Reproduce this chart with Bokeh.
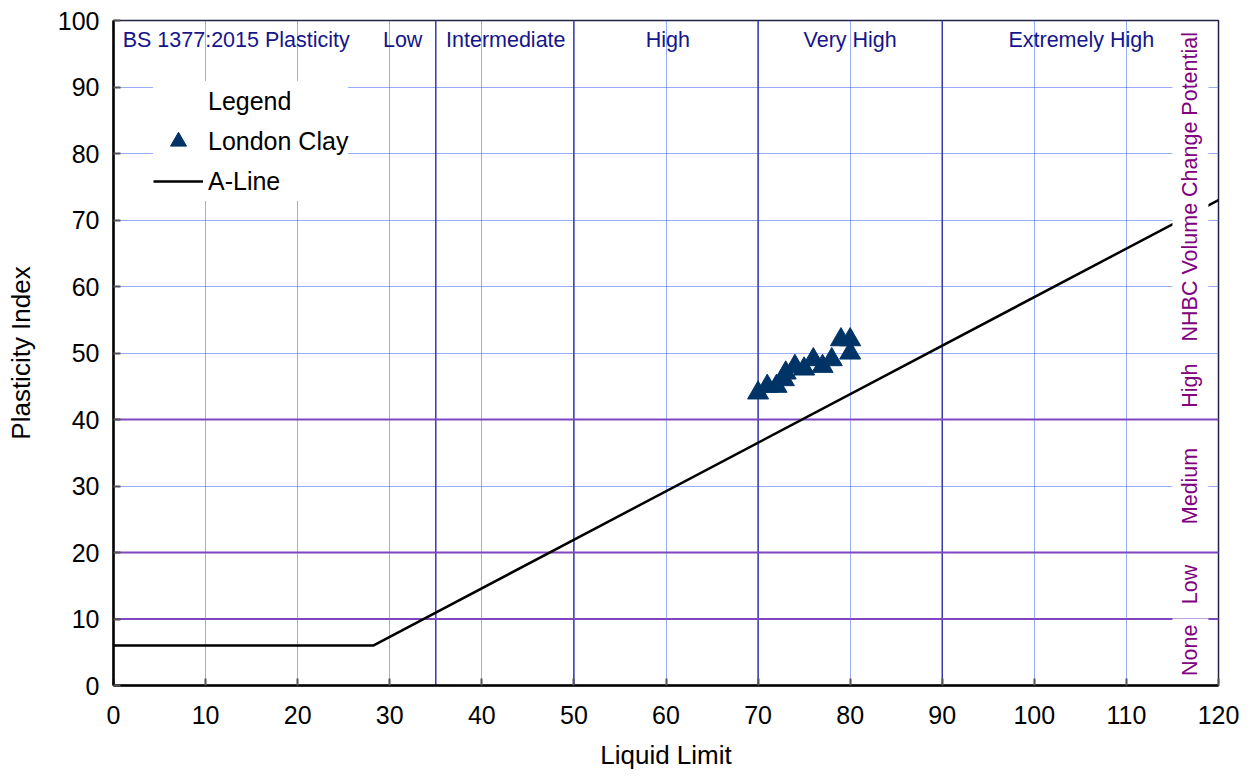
from math import pi
from bokeh.plotting import figure
from bokeh.models import (Range1d, Span, Label, Legend, LegendItem, FixedTicker)
from bokeh.embed import file_html
from bokeh.resources import INLINE

# ---- data ----
clay_ll = [70, 71, 72, 72.8, 73, 74, 75, 76, 77, 78, 79, 80, 80]
clay_pi = [44, 45, 45, 46, 47, 48, 47.6, 49, 48, 49, 52, 52, 50]

aline_ll = [0, 28.2, 120]
aline_pi = [6, 6, 73]

bs_bounds = [35, 50, 70, 90]
bs_labels = ["BS 1377:2015 Plasticity", "Low", "Intermediate", "High", "Very High", "Extremely High"]
bs_label_x = [1.0, 31.4, 42.6, 60.2, 80.0, 105.1]
bs_label_align = ["left", "center", "center", "center", "center", "center"]

nhbc_bounds = [10, 20, 40]
nhbc_labels = ["None", "Low", "Medium", "High", "NHBC Volume Change Potential"]
nhbc_label_y = [5.3, 15.2, 30, 45.1, 75.0]

x_ticks = list(range(0, 121, 10))
y_ticks = list(range(0, 101, 10))

FONT = "Liberation Sans"

p = figure(width=1259, height=782, output_backend="svg", toolbar_location=None,
           x_range=Range1d(0, 120), y_range=Range1d(0, 100),
           min_border_left=113, min_border_right=41, min_border_top=20, min_border_bottom=97)

p.outline_line_color = "#222244"
p.outline_line_width = 1.5
p.background_fill_color = "white"

for ax in (p.xaxis[0], p.yaxis[0]):
    ax.axis_line_color = "black"
    ax.axis_line_width = 2.5
    ax.major_tick_in = 7
    ax.major_tick_out = 0
    ax.minor_tick_line_color = None
    ax.major_tick_line_color = "#555555"
    ax.major_tick_line_width = 2
    ax.major_label_text_font = FONT
    ax.major_label_text_font_size = "25px"
    ax.major_label_text_color = "black"
    ax.axis_label_text_font = FONT
    ax.axis_label_text_font_size = "26px"
    ax.axis_label_text_font_style = "normal"
    ax.axis_label_text_color = "black"

p.xaxis.ticker = FixedTicker(ticks=x_ticks)
p.yaxis.ticker = FixedTicker(ticks=y_ticks)
p.xaxis.axis_label = "Liquid Limit"
p.yaxis.axis_label = "Plasticity Index"
p.xaxis.major_label_standoff = 20
p.yaxis.major_label_standoff = 14
p.xaxis.axis_label_standoff = 13
p.yaxis.axis_label_standoff = 19

p.xgrid[0].ticker = FixedTicker(ticks=x_ticks)
p.ygrid[0].ticker = FixedTicker(ticks=y_ticks)
for g in (p.xgrid[0], p.ygrid[0]):
    g.grid_line_color = "#2f5bf0"
    g.grid_line_dash = "1 1"
    g.grid_line_width = 1

for b in bs_bounds:
    p.add_layout(Span(location=b, dimension="height", line_color="#3a3ab0",
                      line_width=1.5, level="underlay"))
for b in nhbc_bounds:
    p.add_layout(Span(location=b, dimension="width", line_color="#8046bf",
                      line_width=2, level="underlay"))

aline = p.line(aline_ll, aline_pi, line_color="black", line_width=2.5)
clay = p.scatter(clay_ll, clay_pi, marker="triangle", size=21,
                 fill_color="#003366", line_color="#003366")
dummy = p.line([], [], line_alpha=0)

for txt, x, al in zip(bs_labels, bs_label_x, bs_label_align):
    p.add_layout(Label(x=x, y=97.0, text=txt, text_align=al, text_baseline="middle",
                       text_font=FONT, text_font_size="21.5px", text_color="#15158c"))

for txt, y in zip(nhbc_labels, nhbc_label_y):
    p.add_layout(Label(x=116.95, y=y, text=txt, angle=pi / 2, text_align="center",
                       text_baseline="middle", text_font=FONT, text_font_size="21.5px",
                       text_color="#800080", background_fill_color="white", padding=6))

legend = Legend(items=[LegendItem(label="Legend", renderers=[dummy]),
                       LegendItem(label="London Clay", renderers=[clay]),
                       LegendItem(label="A-Line", renderers=[aline])],
                location=(40, 484), margin=0, padding=0, spacing=0,
                glyph_width=50, glyph_height=40, label_height=40, label_standoff=5,
                label_text_font=FONT, label_text_font_size="25px",
                label_text_color="black",
                background_fill_color="white", background_fill_alpha=1,
                border_line_color=None)
p.add_layout(legend)

open("out.html", "w").write(file_html(p, INLINE))
